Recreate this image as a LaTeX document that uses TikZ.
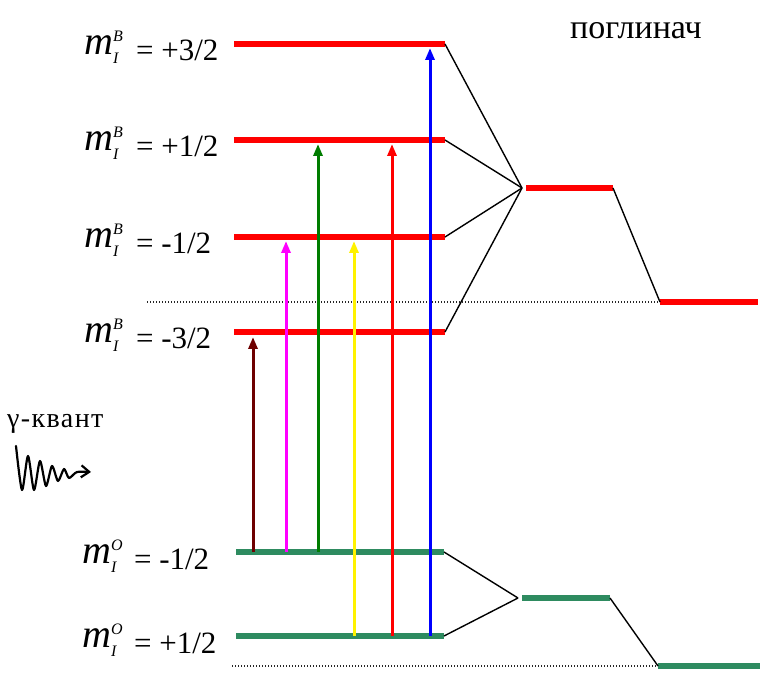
\documentclass[tikz,border=0pt]{standalone}
\usepackage{fontspec}
\setmainfont{Liberation Serif}
\usetikzlibrary{arrows.meta,positioning}

\definecolor{levelgreen}{RGB}{46,139,96}
\definecolor{darkbrown}{RGB}{110,0,0}
\definecolor{arrgreen}{RGB}{0,125,0}
\definecolor{brightmagenta}{RGB}{255,0,255}

% m_I^X label: big italic m, small scripts, then the value
\newcommand{\mlab}[2]{%
  \raisebox{6pt}{\fontsize{40}{40}\selectfont\itshape m}%
  \makebox[14pt][l]{\rlap{\raisebox{19pt}{\fontsize{16}{16}\selectfont\itshape #1}}%
  \raisebox{-3pt}{\fontsize{16}{16}\selectfont\itshape I}}%
  \hspace{9pt}= #2}

\begin{document}
\begin{tikzpicture}[
    x=1pt, y=-1pt,
    lvlB/.style={red, line width=6pt},
    lvlO/.style={levelgreen, line width=6pt},
    link/.style={black, line width=1.4pt},
    guide/.style={black!85, line width=1.2pt, dash pattern=on 1.2pt off 1.8pt},
    trans/.style={line width=3pt, -{Triangle[length=12pt,width=9pt]}},
    lab/.style={font=\fontsize{31}{34}\selectfont, inner sep=0pt, anchor=base west}
]
\useasboundingbox (0,0) rectangle (764,684);

% Level end points
\foreach \n/\y in {1/44,2/140,3/237,4/332} {
  \coordinate (b\n l) at (234,\y);
  \coordinate (b\n r) at (445,\y);
}
\coordinate (o1l) at (236,552); \coordinate (o1r) at (444,552);
\coordinate (o2l) at (236,636); \coordinate (o2r) at (444,636);

% Absorber levels on the right
\coordinate (bmid) at (522,188);
\coordinate (bm1) at (526,188); \coordinate (bm2) at (613,188);
\coordinate (bg1) at (660,302); \coordinate (bg2) at (758,302);
\coordinate (omid) at (518,598);
\coordinate (om1) at (522,598); \coordinate (om2) at (610,598);
\coordinate (og1) at (658,666); \coordinate (og2) at (760,666);
\coordinate (dB) at (147,302);
\coordinate (dO) at (232,666);

% Dotted reference lines
\draw[guide] (dB) -- (bg1);
\draw[guide] (dO) -- (og1);

% Levels
\foreach \n in {1,2,3,4} { \draw[lvlB] (b\n l) -- (b\n r); }
\draw[lvlO] (o1l) -- (o1r);
\draw[lvlO] (o2l) -- (o2r);
\draw[lvlB] (bm1) -- (bm2);
\draw[lvlB] (bg1) -- (bg2);
\draw[lvlO] (om1) -- (om2);
\draw[lvlO] (og1) -- (og2);

% Splitting lines
\foreach \n in {1,2,3,4} { \draw[link] (b\n r) -- (bmid); }
\draw[link] (o1r) -- (omid);
\draw[link] (o2r) -- (omid);
\draw[link] (bm2) -- (bg1);
\draw[link] (om2) -- (og1);

% Transitions
\coordinate (t1s) at (253,552); \coordinate (t1e) at (253,337);
\coordinate (t2s) at (286,552); \coordinate (t2e) at (286,241);
\coordinate (t3s) at (318,552); \coordinate (t3e) at (318,144);
\coordinate (t4s) at (354,636); \coordinate (t4e) at (354,241);
\coordinate (t5s) at (392,636); \coordinate (t5e) at (392,144);
\coordinate (t6s) at (430,636); \coordinate (t6e) at (430,48);
\draw[trans, darkbrown] (t1s) -- (t1e);
\draw[trans, brightmagenta] (t2s) -- (t2e);
\draw[trans, arrgreen] (t3s) -- (t3e);
\draw[trans, yellow] (t4s) -- (t4e);
\draw[trans, red] (t5s) -- (t5e);
\draw[trans, blue] (t6s) -- (t6e);

% Labels
\node[lab] (lb1) at (84,61) {\mlab{B}{+3/2}};
\node[lab] (lb2) at (84,157) {\mlab{B}{+1/2}};
\node[lab] (lb3) at (84,254) {\mlab{B}{-1/2}};
\node[lab] (lb4) at (84,349) {\mlab{B}{-3/2}};
\node[lab] (lo1) at (82,570) {\mlab{O}{-1/2}};
\node[lab] (lo2) at (82,654) {\mlab{O}{+1/2}};
\node[lab, font=\fontsize{34}{36}\selectfont] (absorber) at (570,39) {поглинач};
\node[lab, font=\fontsize{28}{30}\selectfont\addfontfeatures{LetterSpace=5}] (gamma) at (7,428) {γ-квант};

% Incoming gamma quantum
\draw[line width=2.2pt, line join=round, line cap=round, -{Straight Barb[length=8pt,width=12pt]}]
  plot[smooth, tension=0.45] coordinates {(16,446) (22,490) (28,456) (34,490) (40,461) (46,486)
    (52,466) (58,481) (64,469) (69,478) (77,472) (91,472)};

\end{tikzpicture}
\end{document}
